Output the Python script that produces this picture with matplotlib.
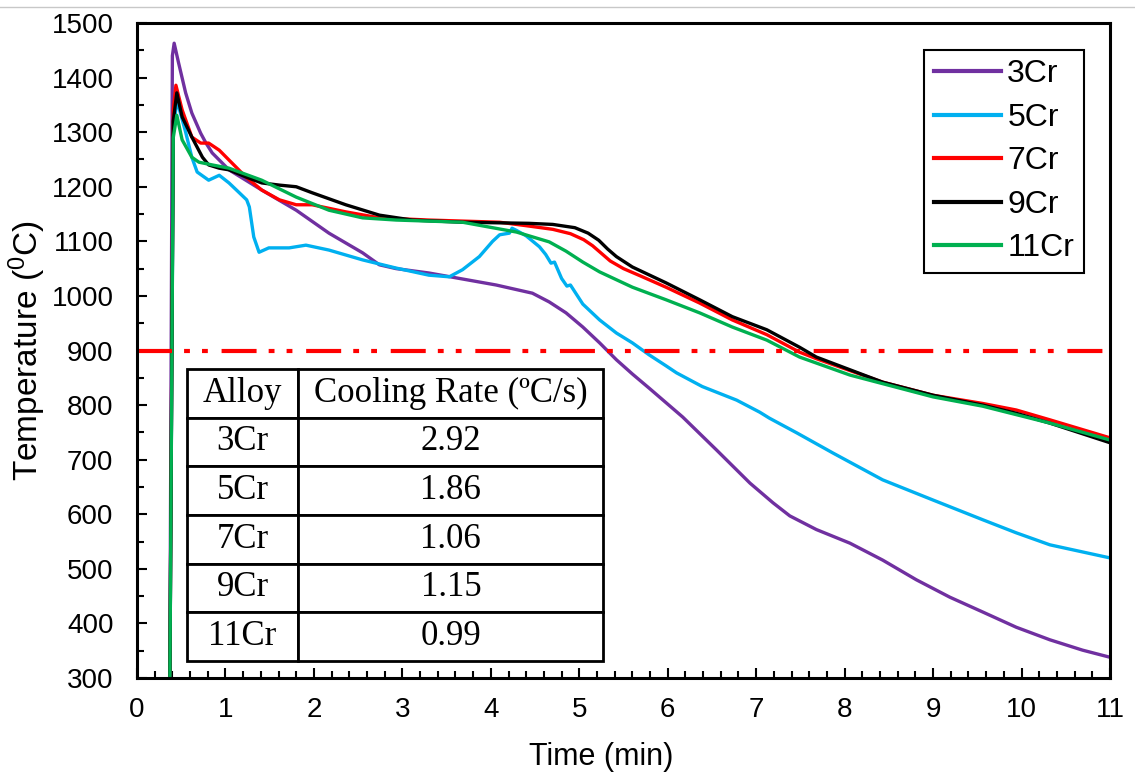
import matplotlib
matplotlib.use("Agg")
import matplotlib.pyplot as plt
from matplotlib.lines import Line2D
from matplotlib.ticker import MultipleLocator

t_3cr = [0.37, 0.40, 0.42, 0.47, 0.55, 0.62, 0.72, 0.78, 0.85, 1.04, 1.41, 1.80, 2.17, 2.55, 2.74,
         2.93, 3.30, 3.68, 4.06, 4.47, 4.66, 4.85, 5.04, 5.23, 5.42, 5.60, 5.79, 6.17, 6.55, 6.93,
         7.19, 7.38, 7.68, 8.06, 8.43, 8.81, 9.19, 9.56, 9.94, 10.32, 10.69, 11.0]
T_3cr = [250, 1440, 1463, 1427, 1372, 1335, 1298, 1280, 1262, 1231, 1194, 1157, 1115, 1079, 1057,
         1050, 1042, 1031, 1020, 1005, 989, 969, 943, 914, 883, 857, 831, 778, 718, 657,
         621, 597, 572, 547, 516, 480, 448, 421, 393, 370, 351, 338]

t_5cr = [0.37, 0.41, 0.45, 0.55, 0.62, 0.68, 0.81, 0.93, 1.04, 1.15, 1.24, 1.27, 1.32, 1.38, 1.49,
         1.72, 1.91, 2.17, 2.55, 2.93, 3.30, 3.53, 3.68, 3.87, 4.02, 4.10, 4.21, 4.24, 4.29, 4.40,
         4.55, 4.62, 4.68, 4.72, 4.80, 4.86, 4.90, 5.04, 5.23, 5.42, 5.60, 5.79, 5.98, 6.10, 6.39,
         6.78, 7.04, 7.15, 7.46, 7.87, 8.43, 9.0, 9.56, 9.94, 10.32, 11.0]
T_5cr = [250, 1300, 1359, 1300, 1254, 1227, 1212, 1221, 1207, 1190, 1176, 1163, 1108, 1080, 1088,
         1088, 1093, 1084, 1066, 1051, 1038, 1035, 1048, 1072, 1100, 1112, 1115, 1124, 1120, 1110,
         1090, 1076, 1060, 1062, 1032, 1018, 1020, 985, 956, 932, 914, 892, 872, 859, 834,
         809, 787, 776, 749, 712, 663, 626, 590, 566, 544, 520]

t_7cr = [0.37, 0.41, 0.44, 0.51, 0.62, 0.72, 0.81, 0.93, 1.04, 1.23, 1.41, 1.61, 1.80, 1.98, 2.36,
         2.74, 3.30, 4.10, 4.43, 4.70, 4.90, 5.05, 5.15, 5.25, 5.35, 5.50, 5.70, 5.98, 6.36, 6.73,
         7.12, 7.49, 7.68, 8.43, 9.0, 9.56, 9.94, 10.32, 11.0]
T_7cr = [250, 1340, 1386, 1341, 1291, 1280, 1280, 1267, 1249, 1218, 1194, 1176, 1167, 1167, 1154,
         1143, 1139, 1135, 1128, 1122, 1114, 1103, 1092, 1078, 1064, 1050, 1036, 1016, 987, 956,
         929, 897, 885, 842, 818, 803, 791, 773, 740]

t_9cr = [0.37, 0.41, 0.45, 0.51, 0.62, 0.74, 0.81, 0.93, 1.04, 1.23, 1.41, 1.61, 1.80, 1.98, 2.36,
         2.74, 3.11, 3.68, 4.43, 4.70, 4.95, 5.10, 5.22, 5.32, 5.42, 5.60, 5.98, 6.36, 6.73, 7.12,
         7.49, 7.68, 8.43, 9.0, 9.56, 9.94, 10.32, 11.0]
T_9cr = [250, 1320, 1372, 1328, 1291, 1254, 1240, 1234, 1231, 1218, 1207, 1203, 1200, 1189, 1167,
         1148, 1139, 1135, 1133, 1131, 1125, 1115, 1102, 1086, 1072, 1053, 1024, 993, 962, 938,
         906, 888, 842, 818, 800, 785, 767, 731]

t_11cr = [0.37, 0.41, 0.45, 0.51, 0.62, 0.70, 0.85, 1.04, 1.41, 1.80, 2.17, 2.55, 2.93, 3.68, 4.29,
          4.66, 4.85, 5.04, 5.23, 5.60, 5.98, 6.36, 6.73, 7.12, 7.49, 8.06, 9.0, 9.56, 10.32, 11.0]
T_11cr = [250, 1290, 1331, 1286, 1254, 1245, 1240, 1234, 1212, 1181, 1157, 1143, 1139, 1135, 1117,
          1099, 1082, 1062, 1044, 1016, 993, 969, 943, 919, 888, 855, 815, 798, 767, 736]

alloys = ["3Cr", "5Cr", "7Cr", "9Cr", "11Cr"]
cooling_rates = ["2.92", "1.86", "1.06", "1.15", "0.99"]
ref_temp = 900

series = [(t_3cr, T_3cr), (t_5cr, T_5cr), (t_7cr, T_7cr), (t_9cr, T_9cr), (t_11cr, T_11cr)]
colors = ["#7030A0", "#00B0F0", "#FF0000", "#000000", "#00B050"]

plt.rcParams["font.family"] = ["Liberation Sans", "DejaVu Sans"]

fig = plt.figure(figsize=(11.35, 7.81), dpi=100)
ax = fig.add_axes([137 / 1135, 1 - 678 / 781, 973 / 1135, 655 / 781])

for (t, T), c, name in zip(series, colors, alloys):
    ax.plot(t, T, color=c, lw=2.4, label=name, solid_joinstyle="round")

# reference line, long dash + two dots
ax.axhline(ref_temp, color="#FF0000", lw=3, linestyle=(0, (8.4, 2.9, 1.4, 2.9, 1.4, 3.3)))

ax.set_xlim(0, 11)
ax.set_ylim(300, 1500)
ax.xaxis.set_major_locator(MultipleLocator(1))
ax.xaxis.set_minor_locator(MultipleLocator(0.2))
ax.yaxis.set_major_locator(MultipleLocator(100))
ax.yaxis.set_minor_locator(MultipleLocator(50))
ax.tick_params(axis="x", which="both", direction="in", width=1.5, labelsize=20, pad=14)
ax.tick_params(axis="y", which="both", direction="in", width=1.5, labelsize=20, pad=17)
ax.tick_params(which="major", length=7)
ax.tick_params(which="minor", length=5)
for s in ax.spines.values():
    s.set_linewidth(2.2)

ax.set_xlabel("Time (min)", fontsize=22)
ax.set_ylabel(r"Temperature ($\mathregular{^{0}}$C)", fontsize=24)
ax.xaxis.set_label_coords(0.477, -0.097)
ax.yaxis.set_label_coords(-0.091, 0.5)

leg = ax.legend(loc="upper right", bbox_to_anchor=(0.973, 0.959), borderaxespad=0,
                fontsize=23, frameon=True, fancybox=False, framealpha=1,
                borderpad=0.3, labelspacing=0.42, handlelength=2.1, handletextpad=0.2)
leg.get_frame().set_edgecolor("black")
leg.get_frame().set_linewidth(1.5)
for h in leg.get_lines():
    h.set_linewidth(3)

# cooling rate table inside the plot
rows = [["Alloy", "Cooling Rate (\u00baC/s)"]] + [[a, r] for a, r in zip(alloys, cooling_rates)]
tab = ax.table(cellText=rows, cellLoc="center", colWidths=[0.267, 0.733],
               bbox=[0.0514, 0.026, 0.428, 0.446])
tab.auto_set_font_size(False)
for cell in tab.get_celld().values():
    cell.set_linewidth(2)
    cell.set_edgecolor("black")
    cell.set_facecolor("white")
    cell.get_text().set_fontsize(25)
    cell.get_text().set_fontfamily("Liberation Serif")

# thin grey border line at the top of the original screenshot
fig.add_artist(Line2D([0, 1], [1 - 7 / 781, 1 - 7 / 781], color="#c8c8c8", lw=1))

fig.savefig("out.png", dpi=100)
